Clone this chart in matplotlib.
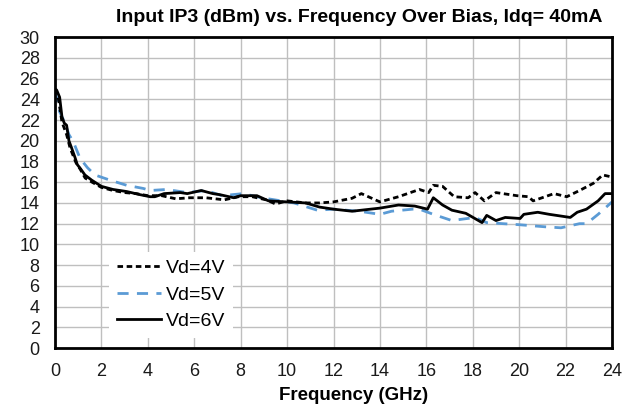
import matplotlib
matplotlib.use("Agg")
import matplotlib.pyplot as plt

plt.rcParams['font.family'] = ['Liberation Sans', 'DejaVu Sans']

# Vd = 4V (black dashed)
f4 = [0, 0.15, 0.3, 0.5, 0.65, 0.9, 1.1, 1.3, 1.6, 2.0, 2.5, 3.0, 3.5, 4.0, 4.6, 5.2,
      5.8, 6.5, 7.3, 7.9, 8.5, 9.1, 9.5, 10.0, 10.8, 11.4, 12.0, 12.8, 13.2, 14.0, 14.8,
      15.7, 16.1, 16.3, 16.7, 17.2, 17.8, 18.1, 18.5, 19.0, 19.9, 20.4, 20.6, 21.5, 22.05,
      22.6, 23.2, 23.6, 24.0]
ip4 = [25.0, 24.0, 21.8, 20.6, 19.3, 17.9, 17.2, 16.4, 16.0, 15.5, 15.2, 15.0, 14.9, 14.7,
       14.7, 14.4, 14.5, 14.5, 14.3, 14.6, 14.6, 14.3, 13.9, 14.2, 14.0, 14.0, 14.1, 14.45,
       14.9, 14.1, 14.6, 15.3, 15.0, 15.7, 15.6, 14.6, 14.5, 15.0, 14.2, 15.0, 14.7, 14.6,
       14.2, 14.9, 14.6, 15.2, 15.9, 16.7, 16.5]

# Vd = 5V (blue dashed)
f5 = [0, 0.2, 0.43, 0.6, 0.79, 1.08, 1.4, 1.72, 2.37, 3.09, 3.8, 4.1, 4.8, 5.7, 6.5, 7.2,
      8.1, 8.9, 10.3, 11.3, 12.0, 13.1, 14.0, 14.5, 15.4, 15.7, 16.3, 17.1, 18.1, 18.6,
      19.3, 20.0, 21.1, 21.8, 22.6, 22.9, 23.4, 24.0]
ip5 = [24.8, 22.8, 21.7, 20.6, 19.9, 18.3, 17.4, 16.7, 16.2, 15.7, 15.4, 15.2, 15.3, 15.0,
       15.2, 14.7, 14.9, 14.5, 14.0, 13.3, 13.4, 13.2, 12.9, 13.2, 13.4, 13.4, 12.9, 12.3,
       12.6, 12.1, 12.0, 11.9, 11.7, 11.6, 12.0, 12.0, 12.9, 14.1]

# Vd = 6V (black solid)
f6 = [0, 0.07, 0.2, 0.3, 0.4, 0.5, 0.6, 0.7, 0.86, 0.96, 1.1, 1.29, 1.58, 2.0, 2.5, 3.09,
      3.66, 4.1, 4.3, 4.7, 5.4, 5.7, 6.3, 6.8, 7.1, 7.7, 8.0, 8.7, 9.2, 10.0, 10.8, 11.4,
      12.0, 12.8, 14.0, 14.8, 15.5, 16.05, 16.3, 16.7, 17.1, 17.7, 18.4, 18.6, 19.0, 19.4,
      20.04, 20.2, 20.8, 21.3, 22.2, 22.5, 22.9, 23.4, 23.7, 24.0]
ip6 = [25.0, 24.9, 24.2, 22.3, 21.7, 21.5, 20.0, 19.4, 18.4, 17.7, 17.3, 16.7, 16.2, 15.6,
       15.3, 15.1, 14.8, 14.6, 14.6, 14.9, 15.0, 14.9, 15.2, 14.9, 14.8, 14.5, 14.7, 14.7,
       14.2, 14.1, 14.0, 13.6, 13.4, 13.2, 13.5, 13.8, 13.7, 13.4, 14.5, 13.8, 13.3, 13.0,
       12.1, 12.8, 12.3, 12.6, 12.5, 12.9, 13.1, 12.9, 12.6, 13.1, 13.4, 14.2, 14.9, 14.9]

xticks = list(range(0, 25, 2))
yticks = list(range(0, 31, 2))

fig = plt.figure(figsize=(6.41, 4.08), dpi=100)
ax = fig.add_axes([0.0858, 0.147, 0.869, 0.762])

ax.plot(f4, ip4, color="black", lw=2, linestyle=(0, (2, 1.3)), label="Vd=4V", zorder=3)
ax.plot(f5, ip5, color="#5B9BD5", lw=2, linestyle=(0, (4, 3)), label="Vd=5V", zorder=2)
ax.plot(f6, ip6, color="black", lw=2, label="Vd=6V", zorder=4)

ax.set_xlim(0, 24)
ax.set_ylim(0, 30)
ax.set_xticks(xticks)
ax.set_yticks(yticks)
ax.tick_params(length=0, labelsize=13, pad=11, labelcolor="#1a1a1a")
ax.grid(True, color="#BFBFBF", lw=1)
ax.set_axisbelow(True)
for s in ax.spines.values():
    s.set_linewidth(2)
    s.set_color("black")

leg = ax.legend(loc="lower left", bbox_to_anchor=(0.079, 0.002), fontsize=14,
                frameon=True, fancybox=False, edgecolor="none", facecolor="white",
                framealpha=1, handlelength=2.3, handletextpad=0.25, labelspacing=0.45)

fig.text(359/641, 1 - 17/408, "Input IP3 (dBm) vs. Frequency Over Bias, Idq= 40mA",
         ha="center", va="center", fontsize=14, fontweight="bold")
fig.text(354/641, 1 - 396/408, "Frequency (GHz)", ha="center", va="center",
         fontsize=13.5, fontweight="bold")

fig.savefig("out.png", dpi=100)
